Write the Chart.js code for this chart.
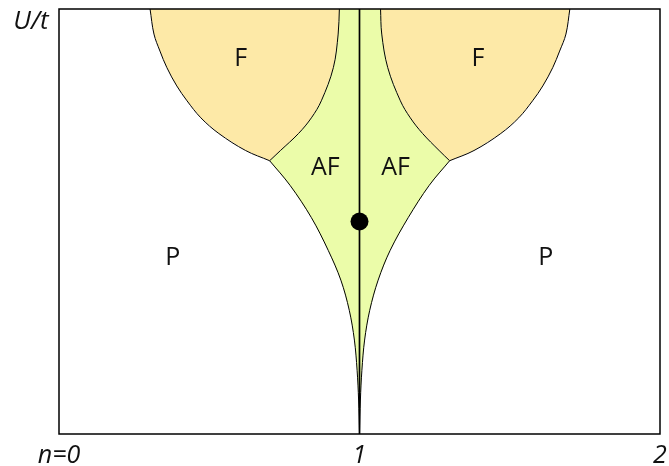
<!DOCTYPE html>
<html>
<head>
<meta charset="utf-8">
<script src="https://cdn.jsdelivr.net/npm/chart.js@4/dist/chart.umd.min.js"></script>
<style>
  html, body { margin: 0; padding: 0; background: #fff; }
  #phase { display: block; }
</style>
</head>
<body>
<canvas id="phase" width="669" height="466"></canvas>
<script>
// phase diagram in the (n, U/t) plane, boundaries as [n, U] pairs
const X_TICKS = [0, 1, 2];
const X_TICK_LABELS = ['n=0', '1', '2'];
const U_MAX = 10;

// ferromagnetic lobe, left of half filling
const fOuterLeft = [[0.303, 10], [0.316, 9.41], [0.336, 9.01], [0.359, 8.62], [0.392, 8.19], [0.426, 7.84], [0.472, 7.44], [0.532, 7.07], [0.621, 6.67], [0.701, 6.43]];
const fInnerLeft = [[0.933, 10], [0.929, 9.41], [0.913, 8.62], [0.873, 7.84], [0.840, 7.44], [0.797, 7.07], [0.737, 6.67], [0.701, 6.43]];
// ferromagnetic lobe, right of half filling
const fOuterRight = [[1.700, 10], [1.687, 9.41], [1.666, 9.01], [1.643, 8.62], [1.610, 8.19], [1.576, 7.84], [1.530, 7.44], [1.470, 7.07], [1.381, 6.67], [1.300, 6.43]];
const fInnerRight = [[1.070, 10], [1.074, 9.41], [1.094, 8.62], [1.136, 7.84], [1.169, 7.44], [1.210, 7.07], [1.265, 6.67], [1.300, 6.43]];
// antiferromagnetic wedge closing onto n = 1
const afEdgeLeft = [[0.701, 6.43], [0.769, 5.85], [0.840, 5.09], [0.896, 4.32], [0.938, 3.62], [0.966, 2.91], [0.983, 2.21], [0.992, 1.50], [0.997, 0.80], [1, 0]];
const afEdgeRight = [[1.300, 6.43], [1.232, 5.85], [1.162, 5.09], [1.102, 4.32], [1.062, 3.62], [1.034, 2.91], [1.017, 2.21], [1.008, 1.50], [1.003, 0.80], [1, 0]];
// half filling line and the marked point on it
const halfFilling = [[1, 0], [1, 10]];
const criticalPoint = [[1, 5.0]];

const regionLabels = [
  { text: 'F', n: 0.605, U: 8.83 },
  { text: 'F', n: 1.394, U: 8.83 },
  { text: 'AF', n: 0.886, U: 6.26 },
  { text: 'AF', n: 1.120, U: 6.26 },
  { text: 'P', n: 0.379, U: 4.15 },
  { text: 'P', n: 1.620, U: 4.15 },
];

const F_FILL = '#fde9a7';
const AF_FILL = '#ebfca9';
const FONT = '"Open Sans", "DejaVu Sans", sans-serif';

const pts = arr => arr.map(([n, U]) => ({ x: n, y: U }));
const rev = arr => arr.slice().reverse();

function region(points, color) {
  return {
    data: pts(points),
    fill: 'shape',
    backgroundColor: color,
    borderWidth: 0,
    pointRadius: 0,
    tension: 0,
    order: 5,
  };
}

function edge(points, width) {
  return {
    data: pts(points),
    fill: false,
    borderColor: '#000',
    borderWidth: width || 1,
    pointRadius: 0,
    tension: 0.35,
    order: 2,
  };
}

// wedge outline: cusp -> left tip -> up the left lobe -> across the top -> down the right lobe -> cusp
const afPolygon = [
  ...rev(afEdgeLeft),
  ...rev(fInnerLeft),
  ...fInnerRight,
  ...afEdgeRight,
];
const fLeftPolygon = [...fOuterLeft, ...rev(fInnerLeft)];
const fRightPolygon = [...fOuterRight, ...rev(fInnerRight)];

const frame = {
  id: 'frame',
  afterDatasetsDraw(chart) {
    const { ctx, chartArea: a, scales } = chart;
    ctx.save();
    ctx.strokeStyle = '#000';
    ctx.lineWidth = 1.5;
    ctx.strokeRect(a.left, a.top, a.right - a.left, a.bottom - a.top);

    ctx.fillStyle = '#111';
    ctx.textAlign = 'center';
    ctx.textBaseline = 'middle';
    ctx.font = '25px ' + FONT;
    regionLabels.forEach(l => {
      ctx.fillText(l.text, scales.x.getPixelForValue(l.n), scales.y.getPixelForValue(l.U));
    });

    ctx.font = 'italic 26px ' + FONT;
    ctx.fillText('U/t', 31, 22);
    ctx.restore();
  }
};

new Chart(document.getElementById('phase'), {
  type: 'line',
  data: {
    datasets: [
      region(afPolygon, AF_FILL),
      region(fLeftPolygon, F_FILL),
      region(fRightPolygon, F_FILL),
      edge(fOuterLeft),
      edge(fInnerLeft),
      edge(afEdgeLeft),
      edge(fOuterRight),
      edge(fInnerRight),
      edge(afEdgeRight),
      edge(halfFilling, 1.7),
      {
        data: pts(criticalPoint),
        showLine: false,
        pointRadius: 9,
        pointBackgroundColor: '#000',
        pointBorderWidth: 0,
        order: 1,
      },
    ]
  },
  options: {
    responsive: false,
    animation: false,
    layout: { padding: { left: 59, right: 8, top: 8, bottom: 0 } },
    plugins: { legend: { display: false }, tooltip: { enabled: false } },
    scales: {
      x: {
        type: 'linear',
        min: 0,
        max: 2,
        grid: { display: false },
        border: { display: false },
        afterBuildTicks: s => { s.ticks = X_TICKS.map(v => ({ value: v })); },
        afterFit: s => { s.height = 32; },
        ticks: {
          padding: 0,
          maxRotation: 0,
          autoSkip: false,
          color: '#111',
          font: { family: FONT, size: 25, style: 'italic', lineHeight: 1.1 },
          callback: v => X_TICK_LABELS[X_TICKS.indexOf(v)],
        }
      },
      y: {
        type: 'linear',
        min: 0,
        max: U_MAX,
        display: false,
      }
    }
  },
  plugins: [frame]
});
</script>
</body>
</html>
